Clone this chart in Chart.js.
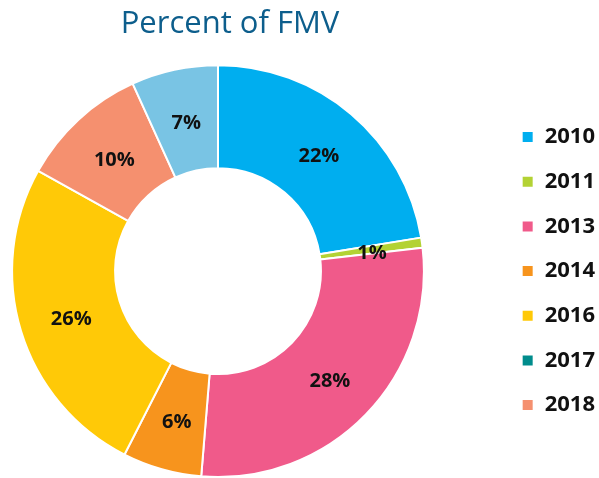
<!DOCTYPE html>
<html>
<head>
<meta charset="utf-8">
<script src="https://cdn.jsdelivr.net/npm/chart.js@4.4.1/dist/chart.umd.min.js"></script>
<style>
  html, body { margin: 0; padding: 0; background: #ffffff; }
  #wrap { width: 599px; height: 478px; position: relative; }
</style>
</head>
<body>
<div id="wrap"><canvas id="c"></canvas></div>
<script>
// ---- Data ----
const categories = ['2010', '2011', '2013', '2014', '2016', '2017', '2018', 'Other'];
const percentValues = [22.4, 0.8, 28.1, 6.2, 25.6, 0, 10.1, 6.8];
const sliceColors = ['#00AEEF', '#B3D234', '#F05A8A', '#F7941D', '#FFC907', '#008C8C', '#F5906F', '#79C4E4'];
const legendCount = 7; // the reference legend lists the first seven categories
const chartTitle = 'Percent of FMV';

// ---- Plugins ----
const sliceLabels = {
  id: 'sliceLabels',
  afterDatasetsDraw(chart) {
    const ctx = chart.ctx;
    const meta = chart.getDatasetMeta(0);
    const data = chart.data.datasets[0].data;
    ctx.save();
    ctx.fillStyle = '#111111';
    ctx.font = 'bold 20px "Open Sans"';
    ctx.textAlign = 'center';
    ctx.textBaseline = 'middle';
    meta.data.forEach((arc, i) => {
      if (!data[i]) return;
      const p = arc.tooltipPosition();
      ctx.fillText(Math.round(data[i]) + '%', p.x + 1, p.y + 3);
    });
    ctx.restore();
  }
};

const legendPlacement = {
  id: 'legendPlacement',
  beforeInit(chart) {
    const origFit = chart.legend.fit;
    chart.legend.fit = function () {
      origFit.call(this);
      this.width = 163;
    };
  },
  afterLayout(chart) {
    const l = chart.legend;
    l.left = 499;
    l.right = 599;
    const t = chart.titleBlock;
    if (t) { t.left += 12; t.right += 12; }
  }
};

new Chart(document.getElementById('c'), {
  type: 'doughnut',
  data: {
    labels: categories,
    datasets: [{
      data: percentValues,
      backgroundColor: sliceColors,
      borderColor: '#ffffff',
      borderWidth: 2,
      hoverOffset: 0
    }]
  },
  options: {
    responsive: true,
    maintainAspectRatio: false,
    animation: false,
    cutout: '50%',
    layout: { padding: 0 },
    plugins: {
      title: {
        display: true,
        text: chartTitle,
        fullSize: false,
        color: '#0D5E8C',
        font: { family: '"Open Sans"', size: 31, weight: 'normal', lineHeight: 1.2 },
        padding: { top: 6, bottom: 21 }
      },
      legend: {
        display: true,
        position: 'right',
        fullSize: false,
        labels: {
          boxWidth: 12,
          boxHeight: 12,
          padding: 22.67,
          color: '#111111',
          font: { family: '"Open Sans"', size: 22, weight: 'bold' },
          filter: (item) => item.index < legendCount
        }
      },
      tooltip: { enabled: false }
    }
  },
  plugins: [sliceLabels, legendPlacement]
});
</script>
</body>
</html>
